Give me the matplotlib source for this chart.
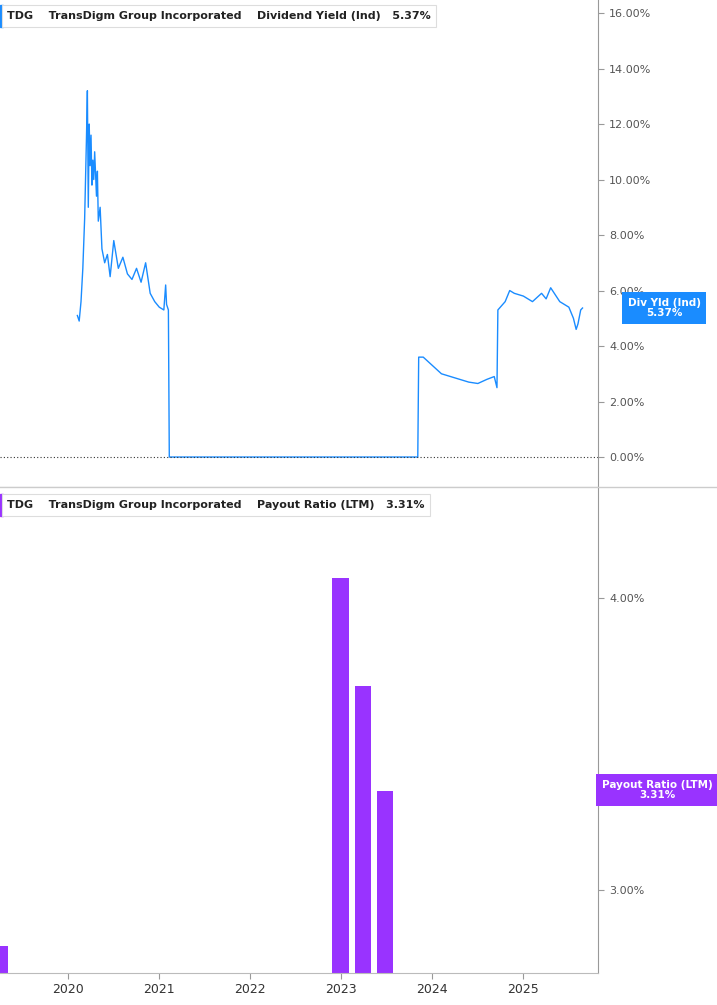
import matplotlib
matplotlib.use("Agg")
import matplotlib.pyplot as plt
from matplotlib.ticker import FuncFormatter

# Dividend yield (%) series
dy_dates = [2020.10, 2020.12, 2020.14, 2020.16, 2020.18, 2020.20, 2020.21, 2020.22, 2020.23, 2020.24,
            2020.25, 2020.26, 2020.27, 2020.28, 2020.29, 2020.30, 2020.31, 2020.32, 2020.33, 2020.35,
            2020.37, 2020.40, 2020.43, 2020.46, 2020.50, 2020.55, 2020.60, 2020.65, 2020.70, 2020.75,
            2020.80, 2020.85, 2020.90, 2020.95, 2021.00, 2021.05, 2021.07, 2021.08, 2021.09, 2021.10,
            2021.11, 2023.84, 2023.85, 2023.90, 2024.00, 2024.10, 2024.20, 2024.30, 2024.40, 2024.50,
            2024.60, 2024.68, 2024.71, 2024.72, 2024.80, 2024.85, 2024.90, 2025.00, 2025.10, 2025.20,
            2025.25, 2025.30, 2025.40, 2025.50, 2025.55, 2025.58, 2025.60, 2025.63, 2025.65]
dy_values = [5.1, 4.9, 5.6, 6.8, 8.6, 11.5, 13.2, 9.0, 12.0, 10.5, 11.6, 9.8, 10.7, 10.0, 11.0, 10.2,
             9.4, 10.3, 8.5, 9.0, 7.5, 7.0, 7.3, 6.5, 7.8, 6.8, 7.2, 6.6, 6.4, 6.8, 6.3, 7.0, 5.9,
             5.6, 5.4, 5.3, 6.2, 5.5, 5.4, 5.3, 0.0, 0.0, 3.6, 3.6, 3.3, 3.0, 2.9, 2.8, 2.7, 2.65,
             2.8, 2.9, 2.5, 5.3, 5.6, 6.0, 5.9, 5.8, 5.6, 5.9, 5.7, 6.1, 5.6, 5.4, 5.0, 4.6, 4.8,
             5.3, 5.37]

# Payout ratio (LTM, %) bars
pr_dates = [2019.25, 2022.99, 2023.24, 2023.48]
pr_values = [2.81, 4.07, 3.70, 3.34]

xticks = [2020, 2021, 2022, 2023, 2024, 2025]
top_yticks = [0, 2, 4, 6, 8, 10, 12, 14, 16]
bot_yticks = [3.0, 4.0]

XMIN, XMAX = 2019.25, 2025.82
blue = "#1a8cff"
purple = "#9933ff"
grey_txt = "#555555"

fig = plt.figure(figsize=(7.17, 10.05), dpi=100)
W, H = 717, 1005
axl = 0.0
axw = 598 / W
ax1 = fig.add_axes([axl, 1 - 487 / H, axw, 487 / H])
ax2 = fig.add_axes([axl, 1 - 973 / H, axw, (973 - 488) / H])

pct = FuncFormatter(lambda v, p: f"{v:.2f}%")

# Top panel
ax1.plot(dy_dates, dy_values, color=blue, lw=1.0)
ax1.axhline(0, color="#333333", lw=0.8, ls=(0, (1, 2)))
ax1.set_xlim(XMIN, XMAX)
ax1.set_ylim(-1.08, 16.47)
ax1.set_yticks(top_yticks)
ax1.yaxis.set_major_formatter(pct)
ax1.set_xticks([])

# Bottom panel
ax2.bar(pr_dates, pr_values, width=0.18, color=purple, align="center")
ax2.set_xlim(XMIN, XMAX)
ax2.set_ylim(2.716, 4.377)
ax2.set_yticks(bot_yticks)
ax2.yaxis.set_major_formatter(pct)
ax2.set_xticks(xticks)
ax2.set_xticklabels([str(x) for x in xticks])

for ax in (ax1, ax2):
    ax.yaxis.tick_right()
    for s in ("top", "left"):
        ax.spines[s].set_visible(False)
    ax.spines["right"].set_color("#999999")
    ax.spines["bottom"].set_color("#bbbbbb")
    ax.tick_params(axis="y", length=4, color="#999999", labelsize=8, labelcolor=grey_txt, pad=4)
    ax.tick_params(axis="x", length=4, color="#999999", labelsize=9, labelcolor="#333333")
    ax.set_facecolor("white")

# Legend boxes
def legend(ax, y, color, name, val):
    ax.text(0.012, y, "TDG    TransDigm Group Incorporated    " + name + "   " + val,
            transform=ax.transAxes, fontsize=8, fontweight="bold", color="#222222",
            va="center", ha="left",
            bbox=dict(boxstyle="square,pad=0.5", fc="white", ec="#dddddd", lw=0.8))
    ax.add_patch(plt.Rectangle((0.0, y - 0.022), 0.005, 0.044, transform=ax.transAxes,
                               color=color, clip_on=False))

legend(ax1, 1 - 16 / 487, blue, "Dividend Yield (Ind)", "5.37%")
legend(ax2, 1 - 17 / 485, purple, "Payout Ratio (LTM)", "3.31%")

# Right-side value labels
fig.text(664 / W, 1 - 308 / H, "Div Yld (Ind)\n5.37%", ha="center", va="center", fontsize=7.5,
         color="white", fontweight="bold", linespacing=1.1,
         bbox=dict(boxstyle="square,pad=0.5", fc=blue, ec="none"))
fig.text(657 / W, 1 - 790 / H, "Payout Ratio (LTM)\n3.31%", ha="center", va="center", fontsize=7.5,
         color="white", fontweight="bold", linespacing=1.1,
         bbox=dict(boxstyle="square,pad=0.5", fc=purple, ec="none"))

# Separator between panels
fig.add_artist(plt.Line2D([0, 1], [1 - 487.5 / H, 1 - 487.5 / H], color="#cccccc", lw=1))

fig.savefig("out.png", dpi=100, facecolor="white")
